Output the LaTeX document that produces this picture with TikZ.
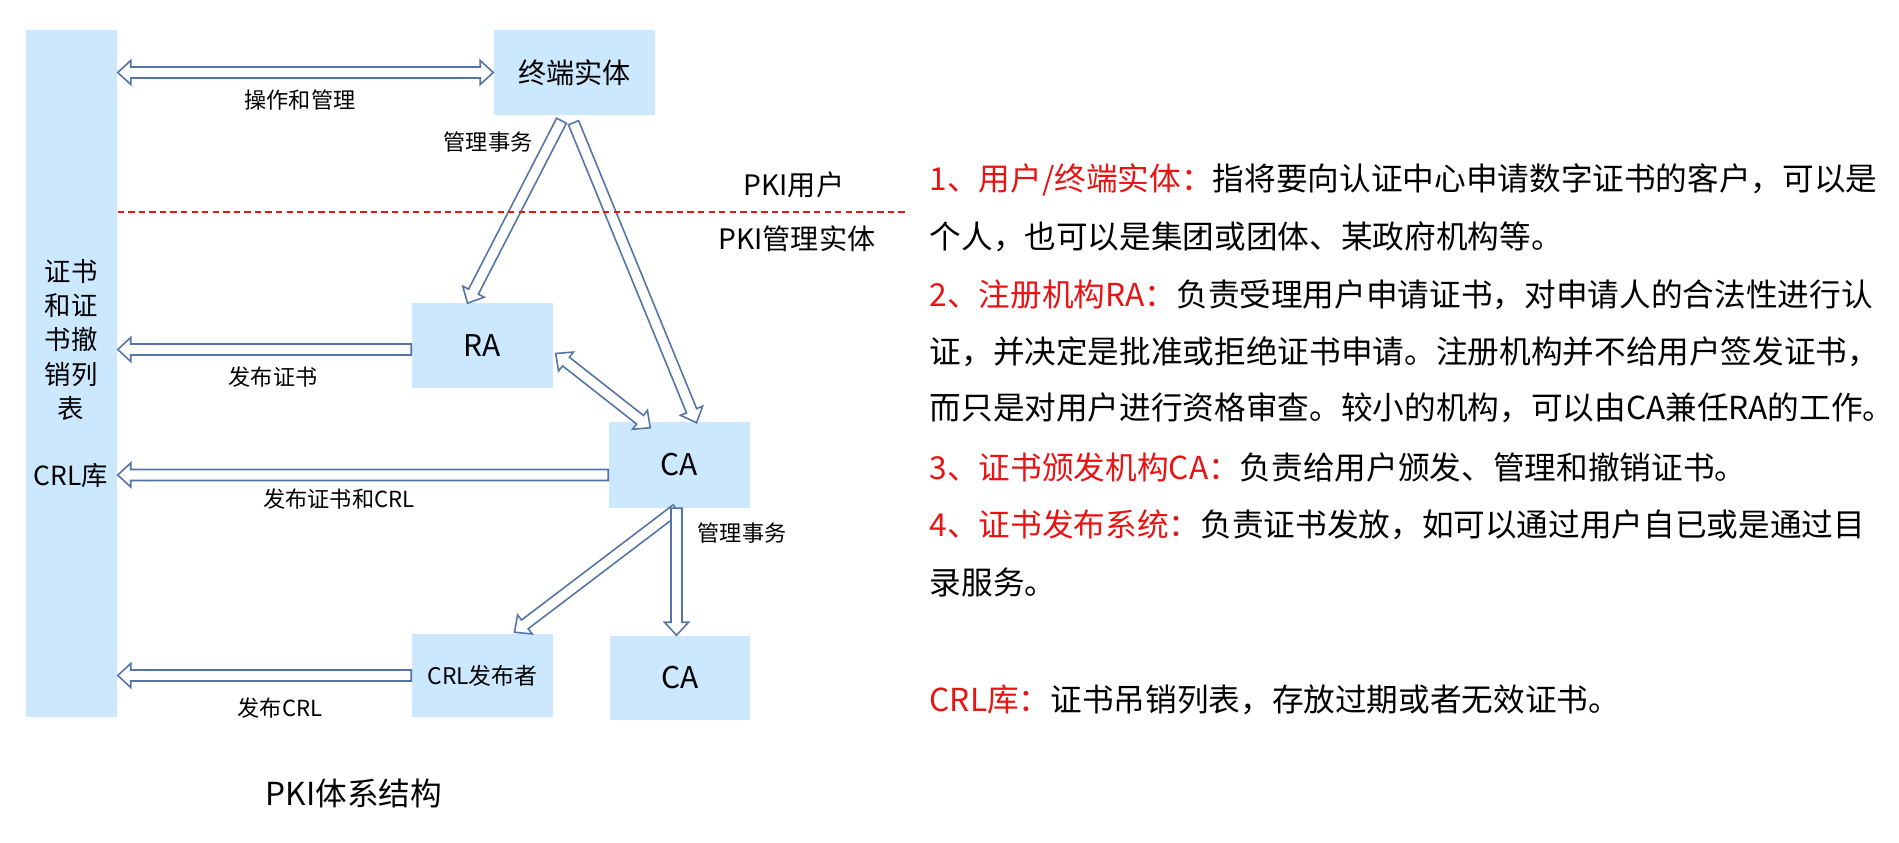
\documentclass[tikz,border=0pt]{standalone}
\usepackage{fontspec}
\setmainfont{Noto Sans CJK SC}
\usetikzlibrary{calc,positioning}
\definecolor{boxblue}{RGB}{204,232,255}
\definecolor{arrblue}{RGB}{84,116,168}
\definecolor{txtred}{RGB}{232,20,20}
\newcommand{\hl}[1]{\textcolor{txtred}{#1}}
\newcommand{\arrshaft}{0.055cm}
\newcommand{\arrwing}{0.12cm}
\newcommand{\arrhead}{0.13cm}
% hollow block arrow, #1 tail, #2 tip
\newcommand{\hollowarr}[2]{%
  \coordinate (hb) at ($(#2)!\arrhead!(#1)$);
  \filldraw[arrline] ($(#1)!\arrshaft!90:(#2)$) -- ($(hb)!\arrshaft!90:(#2)$)
    -- ($(hb)!\arrwing!90:(#2)$) -- (#2) -- ($(hb)!\arrwing!-90:(#2)$)
    -- ($(hb)!\arrshaft!-90:(#2)$) -- ($(#1)!\arrshaft!-90:(#2)$) -- cycle;
}
% hollow block arrow with two heads
\newcommand{\hollowdarr}[2]{%
  \coordinate (ha) at ($(#1)!\arrhead!(#2)$);
  \coordinate (hb) at ($(#2)!\arrhead!(#1)$);
  \filldraw[arrline] (#1) -- ($(ha)!\arrwing!90:(#2)$) -- ($(ha)!\arrshaft!90:(#2)$)
    -- ($(hb)!\arrshaft!90:(#2)$) -- ($(hb)!\arrwing!90:(#2)$) -- (#2)
    -- ($(hb)!\arrwing!-90:(#2)$) -- ($(hb)!\arrshaft!-90:(#2)$)
    -- ($(ha)!\arrshaft!-90:(#2)$) -- ($(ha)!\arrwing!-90:(#2)$) -- cycle;
}

\begin{document}
\begin{tikzpicture}[x=0.01cm, y=-0.01cm,
  box/.style={fill=boxblue, inner sep=0pt, minimum width=1.41cm, minimum height=0.85cm, font=\fontsize{8.5}{10}\selectfont},
  arrline/.style={draw=arrblue, fill=white, line width=0.45pt, line join=miter},
  small lbl/.style={font=\fontsize{6.3}{7.5}\selectfont, inner sep=0pt},
  side lbl/.style={font=\fontsize{8}{9.6}\selectfont, inner sep=0pt},
  desc/.style={anchor=west, inner sep=0pt, font=\fontsize{9}{11}\selectfont}]
\fill[white] (0,0) rectangle (1899,843);
\useasboundingbox (0,0) rectangle (1899,843);

%boxes
\node[box, minimum width=0.91cm, minimum height=6.87cm] (crl) at (71.5,373.5) {};
\node[box, minimum width=1.61cm, font=\fontsize{8}{9.6}\selectfont] (ee) at (574.5,72.5) {终端实体};
\node[box] (ra) at (482.5,345.5) {RA};
\node[box] (ca) at (679.5,465) {CA};
\node[box, minimum height=0.83cm, font=\fontsize{6.5}{8}\selectfont] (pub) at (482.5,675.5) {CRL发布者};
\node[box, minimum width=1.40cm, minimum height=0.84cm] (cab) at (680,678) {CA};
\node[inner sep=0pt, align=center, font=\fontsize{7.5}{9.7}\selectfont] (crltitle) at (71,340) {证书\\和证\\书撤\\销列\\表};
\node[inner sep=0pt, font=\fontsize{7.5}{9}\selectfont] (crlname) at (71,476) {CRL库};

%arrows
\coordinate (eeL) at (crl.east |- ee.west);
\hollowdarr{eeL}{ee.west}
\coordinate (ee1) at ($(ee.south)+(-13,5)$);
\coordinate (ra1) at ($(ra.north)+(-15,1)$);
\hollowarr{ee1}{ra1}
\coordinate (ee2) at ($(ee.south)+(-1,7)$);
\coordinate (ca1) at ($(ca.north)+(17,1)$);
\hollowarr{ee2}{ca1}
\coordinate (raW) at ($(ra.west)+(0,4)$);
\coordinate (raL) at (crl.east |- raW);
\hollowarr{raW}{raL}
\coordinate (ra2) at ($(ra.east)+(2,8)$);
\coordinate (ca2) at ($(ca.north west)+(42,6)$);
\hollowdarr{ra2}{ca2}
\coordinate (caW) at ($(ca.west)+(0,10)$);
\coordinate (caL) at (crl.east |- caW);
\hollowarr{caW}{caL}
\coordinate (ca3) at ($(ca.south)+(-3,1)$);
\coordinate (pub1) at ($(pub.north)+(32,-1)$);
\hollowarr{ca3}{pub1}
\coordinate (ca4) at ($(ca.south)+(-3,0)$);
\coordinate (ca5) at (ca4 |- cab.north);
\hollowarr{ca4}{ca5}
\coordinate (pubL) at (crl.east |- pub.west);
\hollowarr{pub.west}{pubL}

%user / management separator
\coordinate (sepR) at (906,212);
\draw[txtred, dash pattern=on 1.8pt off 1.2pt, line width=0.5pt] (crl.east |- sepR) -- (sepR);

%labels
\node[small lbl] (opl) at (300,100) {操作和管理};
\node[small lbl] (mgl) at (488,142) {管理事务};
\node[side lbl] (usr) at (794,185) {PKI用户};
\node[side lbl] (mgr) at (797,239) {PKI管理实体};
\node[small lbl] (pubc) at (273,377) {发布证书};
\node[small lbl] (pubcc) at (339,499) {发布证书和CRL};
\node[small lbl] (mgl2) at (742,533) {管理事务};
\node[small lbl] (pubcrl) at (280,708) {发布CRL};
\node[inner sep=0pt, font=\fontsize{9}{11}\selectfont] (cap) at (354,793) {PKI体系结构};

%description
\node[desc] (d1) at (929,180) {\hl{1、用户/终端实体：}指将要向认证中心申请数字证书的客户，可以是};
\node[desc] (d2) at (929,237) {个人，也可以是集团或团体、某政府机构等。};
\node[desc] (d3) at (929,295) {\hl{2、注册机构RA：}负责受理用户申请证书，对申请人的合法性进行认};
\node[desc] (d4) at (929,352) {证，并决定是批准或拒绝证书申请。注册机构并不给用户签发证书，};
\node[desc] (d5) at (929,408) {而只是对用户进行资格审查。较小的机构，可以由CA兼任RA的工作。};
\node[desc] (d6) at (929,467) {\hl{3、证书颁发机构CA：}负责给用户颁发、管理和撤销证书。};
\node[desc] (d7) at (929,525) {\hl{4、证书发布系统：}负责证书发放，如可以通过用户自已或是通过目};
\node[desc] (d8) at (929,582) {录服务。};
\node[desc] (d9) at (929,700) {\hl{CRL库：}证书吊销列表，存放过期或者无效证书。};
\end{tikzpicture}
\end{document}
